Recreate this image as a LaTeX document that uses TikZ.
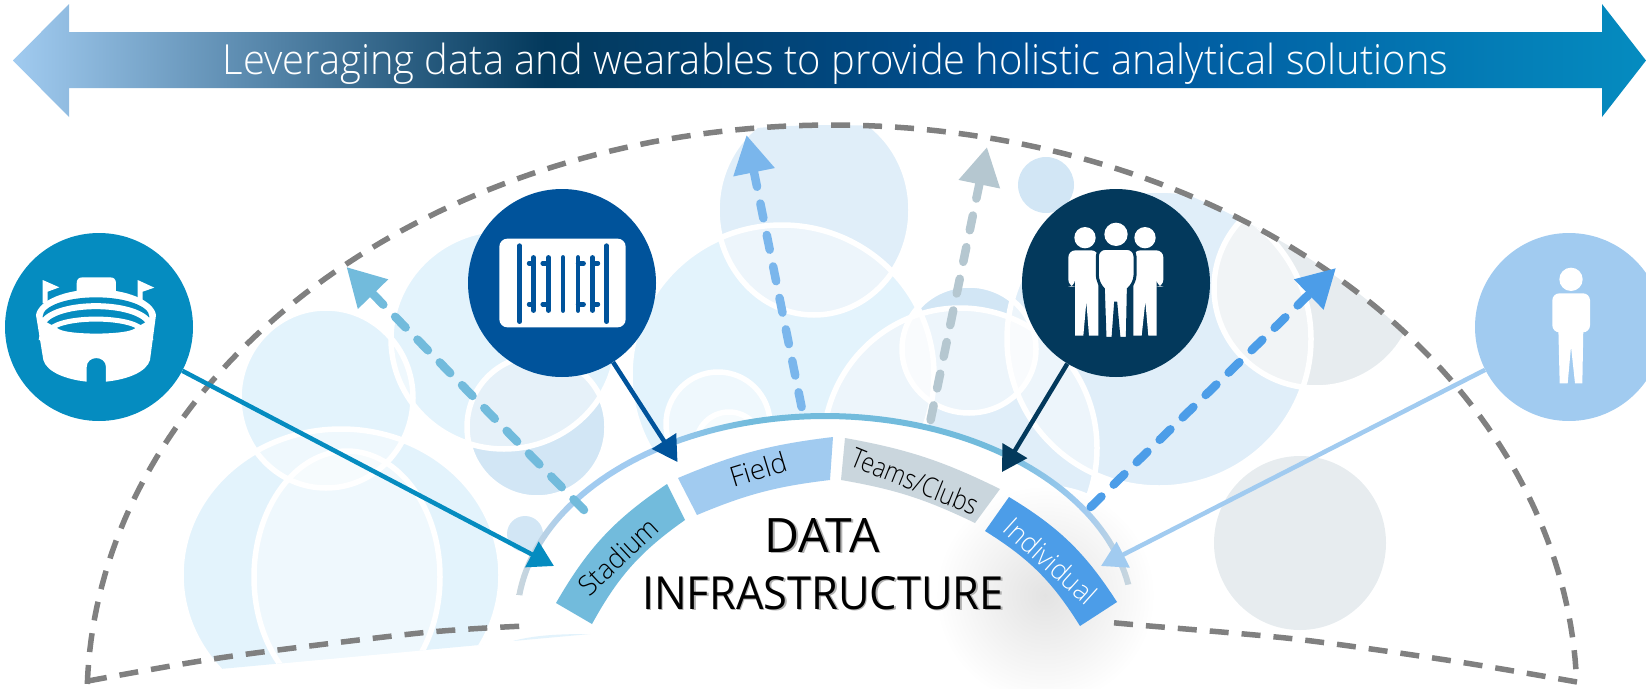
\documentclass[tikz,border=0pt]{standalone}
\usepackage{fontspec}
\setmainfont{Open Sans Light}
\newfontfamily\regularFace{Open Sans}
\usetikzlibrary{arrows.meta}
\definecolor{cStad}{HTML}{058CC0}
\definecolor{cField}{HTML}{00539B}
\definecolor{cTeam}{HTML}{03395C}
\definecolor{cInd}{HTML}{A1CBF0}
\definecolor{sStad}{HTML}{72BBDC}
\definecolor{sTeam}{HTML}{CAD6DD}
\definecolor{sInd}{HTML}{4C9DE8}
\definecolor{dTall}{HTML}{7AB6EC}
\definecolor{dGray}{HTML}{B5C7D0}
\definecolor{bLight}{HTML}{E3F3FC}
\definecolor{bMid}{HTML}{E0EEF9}
\definecolor{bDark}{HTML}{D2E6F5}
\definecolor{bGray}{HTML}{E7ECEF}
\definecolor{dashGray}{HTML}{808080}
\pgfdeclarehorizontalshading{bannerShade}{100bp}{color(0bp)=(cInd); color(25bp)=(cInd); color(41.3bp)=(cTeam); color(57.8bp)=(cField); color(75bp)=(cStad); color(100bp)=(cStad)}
\pgfdeclarehorizontalshading{arcShade}{100bp}{color(0bp)=(sTeam); color(25bp)=(sTeam); color(30bp)=(cInd); color(36bp)=(cInd); color(44bp)=(sStad); color(64bp)=(sStad); color(71bp)=(cInd); color(75bp)=(sTeam); color(100bp)=(sTeam)}
\tikzset{
  iconDisc/.style={circle,minimum size=188pt,inner sep=0pt,fill=#1},
  feed/.style={line width=4.5pt,draw=#1,-{Triangle[length=25pt,width=28pt,fill=#1]}},
  flow/.style 2 args={line width=8.5pt,draw=#1,line cap=round,dash pattern=on 15pt off #2,-{Triangle[length=38pt,width=40pt,fill=#1]}},
  rim/.style={draw=dashGray,line width=5.5pt,dash pattern=on 19pt off 13pt},
  ring/.style={draw=white,line width=5.5pt},
  seg/.style={fill=#1},
  segLabel/.style={inner sep=0pt,anchor=center,text=black}
}
\def\bubLL{(341,575) ellipse [x radius=160,y radius=146]}
\def\bubR{(347,577) ellipse [x radius=93,y radius=126]}
\def\bubCtwo{(326,398) ellipse [x radius=87,y radius=90]}
\def\bubCthree{(504,339) ellipse [x radius=113,y radius=110]}
\def\bubCfour{(537,427) ellipse [x radius=70,y radius=71]}
\def\bubA{(814,210) ellipse [x radius=97,y radius=105]}
\def\bubB{(782,375) ellipse [x radius=152,y radius=150]}
\def\bubC{(969,349) ellipse [x radius=67,y radius=64]}
\def\bubD{(960,448) ellipse [x radius=137,y radius=140]}
\def\bubE{(1159,339) ellipse [x radius=152,y radius=149]}
\def\bubF{(1316,288) ellipse [x radius=102,y radius=100]}
\def\bubG{(1046,185) ellipse [x radius=28,y radius=28]}
\def\bubH{(1300,543) ellipse [x radius=86,y radius=87]}
\def\bubI{(525,534) ellipse [x radius=18,y radius=18]}
\def\bubJ{(718,424) ellipse [x radius=52,y radius=52]}
\def\bubK{(729,445) ellipse [x radius=33,y radius=33]}
\newcommand{\lensOf}[2]{\begin{scope}\clip #1; \fill[white,opacity=.45] #2;\end{scope}}
\newcommand{\shadowText}[1]{\rlap{\kern.35pt\raisebox{-.35pt}{\color{black!30}#1}}#1}
\begin{document}
\begin{tikzpicture}[x=1pt,y=-1pt]
\useasboundingbox (0,0) rectangle (1646,688);
% banner
\shade[shading=bannerShade] (13,60.5) -- (69,4) -- (69,32) -- (1602,32) -- (1602,4) -- (1646,60.5) -- (1602,117) -- (1602,88) -- (69,88) -- (69,117) -- cycle;
\node[inner sep=0pt,anchor=base,text=white] (title) at (835.5,74) {\resizebox{1225pt}{31.5pt}{Leveraging data and wearables to provide holistic analytical solutions}};
% bubbles
\begin{scope}
\clip plot[domain=178:2,samples=120] ({832+745*cos(\x)},{700-575*sin(\x)}) -- (1577,682) -- (1200,640) -- (825,625) -- (620,632) -- (231,668) -- (88,681) -- cycle;
\fill[bLight] \bubLL;
\fill[bLight] \bubCtwo;
\fill[bLight] \bubCthree;
\fill[bDark] \bubCfour;
\fill[bLight] \bubB;
\fill[bMid] \bubA;
\fill[bDark] \bubC;
\fill[bMid] \bubD;
\fill[bMid] \bubE;
\fill[bGray] \bubF;
\fill[bDark] \bubG;
\fill[bGray] \bubH;
\fill[bDark] \bubI;
\lensOf{\bubLL}{\bubR}
\lensOf{\bubLL}{\bubCtwo}
\lensOf{\bubCtwo}{\bubCthree}
\lensOf{\bubCthree}{\bubCfour}
\lensOf{\bubA}{\bubB}
\lensOf{\bubB}{\bubD}
\lensOf{\bubB}{\bubC}
\lensOf{\bubC}{\bubD}
\lensOf{\bubC}{\bubE}
\lensOf{\bubD}{\bubE}
\lensOf{\bubE}{\bubF}
\lensOf{\bubB}{\bubJ}
\lensOf{\bubJ}{\bubK}
\foreach \p in {\bubLL,\bubR,\bubCtwo,\bubCthree,\bubCfour,\bubA,\bubB,\bubC,\bubD,\bubE,\bubF,\bubJ,\bubK}{\draw[ring] \p;}
\end{scope}
% area inside the arc
\fill[white] plot[domain=180:0,samples=100] ({825+308*cos(\x)},{620-204*sin(\x)}) -- (1133,688) -- (517,688) -- cycle;
\fill[bLight] (513,641) .. controls (535,635) and (560,634) .. (590,634) -- cycle;
% shadow
\shade[inner color=black!11,outer color=white] (1045,595) circle (110);
% rim
\draw[rim] plot[domain=178.4:1.8,samples=160] ({832+745*cos(\x)},{700-575*sin(\x)});
\draw[rim] plot[smooth] coordinates {(88,681) (226,657) (420,633) (525,626)};
\draw[rim] plot[smooth] coordinates {(1577,682) (1453,661) (1295,639) (1138,625) (1106,622)};
% arc
\shade[shading=arcShade] plot[domain=173:10,samples=90] ({825+311*cos(\x)},{620-207*sin(\x)}) -- plot[domain=10:173,samples=90] ({825+305*cos(\x)},{620-201*sin(\x)}) -- cycle;
% segments
\path[seg=sStad] (556,603) to[bend left=13] (667,484) -- (685,520) to[bend right=13] (592,624) -- cycle;
\path[seg=cInd] (678,478) to[bend left=8] (833,437) -- (830,480) to[bend right=8] (697,515) -- cycle;
\path[seg=sTeam] (845,438) to[bend left=8] (1000,489) -- (975,523) to[bend right=8] (841,480) -- cycle;
\path[seg=sInd] (1009,497) to[bend left=13] (1117,602) -- (1080,626) to[bend right=13] (985,531) -- cycle;
\node[segLabel,rotate=43] (lStad) at (618,556) {\resizebox{98pt}{21pt}{Stadium}};
\node[segLabel,rotate=17] (lField) at (758,469) {\resizebox{58pt}{21pt}{Field}};
\node[segLabel,rotate=-22] (lTeam) at (915,481) {\resizebox{134pt}{21pt}{Teams/Clubs}};
\node[segLabel,rotate=-42,text=white] (lInd) at (1051,561) {\resizebox{114pt}{21pt}{Individual}};
\node[inner sep=0pt,anchor=base] (lData) at (822,552) {\resizebox{115pt}{34pt}{\regularFace\shadowText{DATA}}};
\node[inner sep=0pt,anchor=base] (lInfra) at (823,609) {\resizebox{362pt}{33pt}{\regularFace\shadowText{INFRASTRUCTURE}}};
% discs
\node[iconDisc=cStad] (stad) at (99,327) {};
\node[iconDisc=cField] (field) at (562,283) {};
\node[iconDisc=cTeam] (team) at (1116,283) {};
\node[iconDisc=cInd] (indv) at (1569,327) {};
% connectors
\coordinate (stadT) at (554,566);
\coordinate (fieldT) at (677.5,462);
\coordinate (teamT) at (1002,472);
\coordinate (indvT) at (1101,566);
\draw[feed=cStad] (stad) -- (stadT);
\draw[feed=cField] (field) -- (fieldT);
\draw[feed=cTeam] (team) -- (teamT);
\draw[feed=cInd] (indv) -- (indvT);
\coordinate (f1a) at (584,510); \coordinate (f1b) at (346.5,267);
\coordinate (f2a) at (801.6,407); \coordinate (f2b) at (746.5,135);
\coordinate (f3a) at (930.6,420); \coordinate (f3b) at (987,147);
\coordinate (f4a) at (1090.7,507); \coordinate (f4b) at (1336,268);
\draw[flow={sStad}{16.9pt}] (f1a) -- (f1b);
\draw[flow={dTall}{17.1pt}] (f2a) -- (f2b);
\draw[flow={dGray}{17.3pt}] (f3a) -- (f3b);
\draw[flow={sInd}{17.1pt}] (f4a) -- (f4b);
% stadium icon
\begin{scope}[shift={(0,220)},x=.33333pt,y=-.33333pt]
\fill[white] (128,180) -- (178,202) -- (143,215) -- (143,250) -- (128,250) -- cycle;
\fill[white] (413,180) -- (463,203) -- (428,215) -- (428,250) -- (413,250) -- cycle;
\fill[white] (230,225) -- (230,190) .. controls (230,178) and (236,172) .. (248,172) -- (330,172) .. controls (342,172) and (348,178) .. (348,190) -- (348,225) -- cycle;
\fill[white] (108,285) .. controls (115,240) and (200,208) .. (288,208) .. controls (376,208) and (461,240) .. (468,285) -- (450,420) .. controls (440,455) and (385,478) .. (318,485) -- (318,442) .. controls (318,405) and (260,405) .. (260,442) -- (260,485) .. controls (195,478) and (140,455) .. (130,420) -- cycle;
\fill[cStad] (288,290) ellipse [x radius=160,y radius=58];
\draw[white,line width=6pt] (130,305) .. controls (175,243) and (401,243) .. (446,305);
\draw[white,line width=5pt] (150,328) .. controls (190,287) and (386,287) .. (426,328);
\fill[white] (128,300) -- (178,328) .. controls (210,345) and (366,345) .. (400,328) -- (448,300) -- (460,360) -- (116,360) -- cycle;
\end{scope}
% field icon
\begin{scope}[shift={(460,180)},x=.33333pt,y=-.33333pt]
\fill[white,rounded corners=8pt] (118,176) rectangle (497,442);
\foreach \bx in {179,440}{\draw[cField,line width=4.6pt,line cap=round] (\bx,197) -- (\bx,425);}
\foreach \bx in {221,265,309,354,398}{\draw[cField,line width=4.4pt,line cap=round] (\bx,232) -- (\bx,392);}
\foreach \ax/\bx in {207/221,248/265,354/371,398/414}{
 \draw[cField,line width=4.4pt,line cap=round] (\ax,250) -- (\bx,250);
 \draw[cField,line width=4.4pt,line cap=round] (\ax,373) -- (\bx,373);}
\end{scope}
% team icon
\begin{scope}[shift={(1020,185)},x=.33333pt,y=-.33333pt]
\fill[white] (195,158) circle (32);
\fill[white] (375,158) circle (32);
\fill[white] (288,148) circle (35);
\fill[white] (165,452) -- (165,290) [rounded corners=7pt] -- (165,305) -- (145,305) -- (145,196) -- (235,196) [sharp corners] -- (235,452) -- (207,452) -- (199,350) -- (190,452) -- cycle;
\fill[white] (410,452) -- (410,290) [rounded corners=7pt] -- (410,305) -- (430,305) -- (430,196) -- (340,196) [sharp corners] -- (340,452) -- (365,452) -- (376,350) -- (385,452) -- cycle;
\draw[cTeam,line width=3pt,fill=white] (255,460) -- (250,312) [rounded corners=8pt] -- (232,295) -- (232,190) -- (345,190) -- (345,295) [sharp corners] -- (325,312) -- (322,460) -- (297,460) -- (287,350) -- (279,460) -- cycle;
\end{scope}
% person icon
\begin{scope}[shift={(1470,225)},x=.33333pt,y=-.33333pt]
\fill[white] (303,163) circle (35);
\fill[white,rounded corners=7pt] (247,205) -- (360,205) -- (360,322) -- (247,322) -- cycle;
\fill[white] (265,310) -- (340,310) -- (337,475) -- (315,475) -- (303,365) -- (293,475) -- (269,475) -- cycle;
\end{scope}
\end{tikzpicture}
\end{document}
